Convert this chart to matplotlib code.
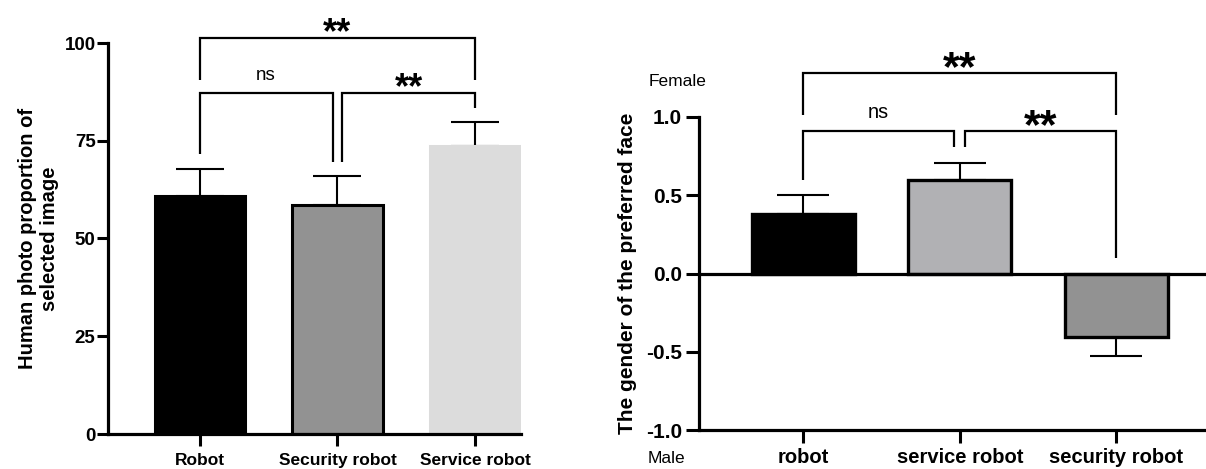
import numpy as np
import matplotlib
matplotlib.use("Agg")
import matplotlib.pyplot as plt

plt.rcParams['font.family'] = ['Liberation Sans', 'DejaVu Sans']

# ---- data: left panel ----
left_categories = ["Robot", "Security robot", "Service robot"]
left_values = [60.9, 58.6, 73.7]
left_errors = [7.0, 7.5, 6.0]
left_colors = ["#000000", "#929292", "#dcdcdc"]
left_edges = ["#000000", "#000000", "#dcdcdc"]
left_yticks = [0, 25, 50, 75, 100]

# ---- data: right panel ----
right_categories = ["robot", "service robot", "security robot"]
right_values = [0.38, 0.595, -0.405]
right_errors = [0.12, 0.113, 0.123]
right_colors = ["#000000", "#b1b1b4", "#929292"]
right_yticks = [-1.0, -0.5, 0.0, 0.5, 1.0]
right_yticklabels = ["-1.0", "-0.5", "0.0", "0.5", "1.0"]

W, H = 1206, 469
fig = plt.figure(figsize=(W / 100, H / 100), dpi=100)

SPINE = 2.3
TICKW = 2.2

def px_axes(x0, y0, x1, y1):
    # pixel box (left, top, right, bottom) -> figure fraction
    return [x0 / W, 1 - y1 / H, (x1 - x0) / W, (y1 - y0) / H]

def bracket(ax, x1, x2, y, y1, y2, lw=1.6):
    ax.plot([x1, x1, x2, x2], [y1, y, y, y2], color="black", lw=lw,
            clip_on=False, solid_joinstyle="miter", solid_capstyle="butt")

def stars(ax, x, y, size):
    # place the visual centre of the asterisks at (x, y)
    ax.annotate("**", xy=(x, y), xytext=(0, -0.58 * size), textcoords="offset points",
                ha="center", va="baseline", fontsize=size, fontweight="bold",
                annotation_clip=False)

# ================= left panel =================
axL = fig.add_axes(px_axes(108, 43, 521, 434))
xL = np.arange(len(left_categories))
axL.bar(xL, left_values, width=0.66, color=left_colors, edgecolor=left_edges,
        linewidth=2.2, zorder=2)
axL.errorbar(xL, left_values, yerr=[np.zeros(len(xL)), left_errors], fmt="none",
             ecolor="black", elinewidth=1.5, capsize=17, capthick=1.5, zorder=1)
axL.set_xlim(-0.669, 2.335)
axL.set_ylim(0, 100)
axL.set_yticks(left_yticks)
axL.set_xticks(xL)
axL.set_xticklabels(left_categories, fontweight="bold", fontsize=12.5)
axL.set_yticklabels([str(t) for t in left_yticks], fontweight="bold", fontsize=13.5)
for s in ["top", "right"]:
    axL.spines[s].set_visible(False)
for s in ["left", "bottom"]:
    axL.spines[s].set_linewidth(SPINE)
axL.tick_params(axis="y", length=8, width=TICKW, pad=1)
axL.tick_params(axis="x", length=8.5, width=TICKW, pad=5)
axL.set_ylabel("Human photo proportion of\nselected image", fontweight="bold",
               fontsize=14.5, linespacing=1.2, labelpad=4)

bracket(axL, 0, 2, 101.2, 90.5, 90.5)
stars(axL, 0.995, 105.4, 26)
bracket(axL, 0, 0.965, 87.1, 71.6, 69.5)
axL.text(0.48, 89.5, "ns", ha="center", va="bottom", fontsize=13.5)
bracket(axL, 1.03, 2, 87.1, 69.5, 83.4)
stars(axL, 1.52, 91.3, 26)

# ================= right panel =================
axR = fig.add_axes(px_axes(699, 117, 1206, 430))
xR = np.arange(len(right_categories))
rv = np.array(right_values)
re = np.array(right_errors)
lower = np.where(rv < 0, re, 0)
upper = np.where(rv >= 0, re, 0)
axR.bar(xR, right_values, width=0.66, color=right_colors, edgecolor="black",
        linewidth=2.4, zorder=2)
axR.errorbar(xR, right_values, yerr=[lower, upper], fmt="none", ecolor="black",
             elinewidth=1.5, capsize=19, capthick=1.5, zorder=1)
axR.axhline(0, color="black", lw=SPINE, zorder=3)
axR.set_xlim(-0.668, 2.574)
axR.set_ylim(-1.0, 1.0)
axR.set_yticks(right_yticks)
axR.set_yticklabels(right_yticklabels, fontweight="bold", fontsize=15)
axR.set_xticks(xR)
axR.set_xticklabels(right_categories, fontweight="bold", fontsize=14.5)
for s in ["top", "right"]:
    axR.spines[s].set_visible(False)
for s in ["left", "bottom"]:
    axR.spines[s].set_linewidth(SPINE)
axR.tick_params(axis="y", length=9.4, width=TICKW, pad=3)
axR.tick_params(axis="x", length=9.4, width=TICKW, pad=3.5)
axR.set_ylabel("The gender of the preferred face", fontweight="bold",
               fontsize=15, labelpad=6)

bracket(axR, 0, 2, 1.282, 1.011, 1.011)
stars(axR, 0.997, 1.395, 31)
bracket(axR, 0, 0.962, 0.912, 0.596, 0.809)
axR.text(0.476, 1.031, "ns", ha="center", va="center", fontsize=14.3)
bracket(axR, 1.033, 2, 0.912, 0.809, 0.096)
stars(axR, 1.518, 1.024, 31)

fig.text(678 / W, 1 - 82 / H, "Female", ha="center", va="center", fontsize=12.5)
fig.text(666 / W, 1 - 458 / H, "Male", ha="center", va="center", fontsize=12.5)

fig.savefig("out.png", dpi=100)
